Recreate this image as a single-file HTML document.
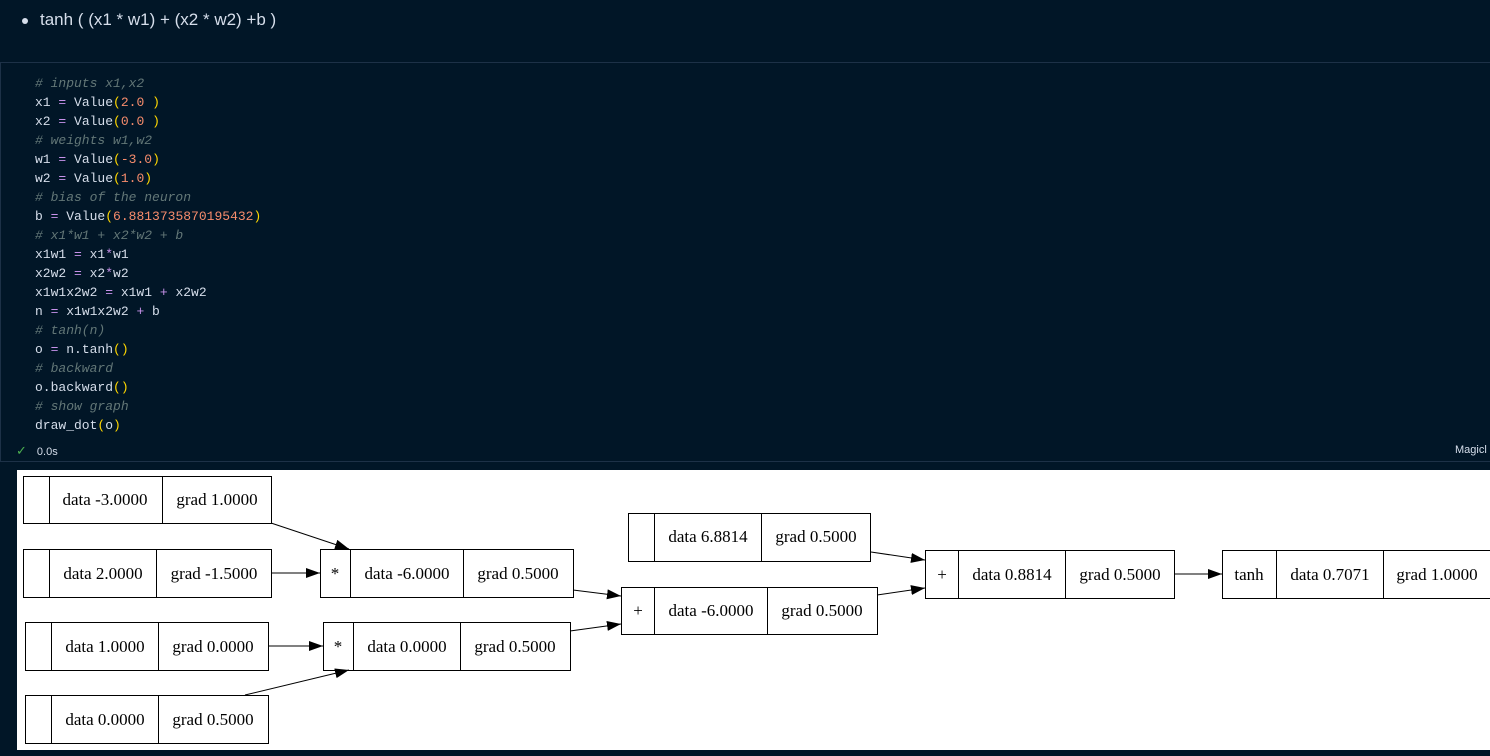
<!DOCTYPE html>
<html><head><meta charset="utf-8"><style>
html,body{margin:0;padding:0;width:1490px;height:756px;overflow:hidden;background:#011627;}
.t{position:absolute;left:40px;top:10px;color:#d6deeb;font:17px "Liberation Sans",sans-serif;}
.dot{position:absolute;left:22px;top:18px;width:6px;height:6px;border-radius:3px;background:#d6deeb;}
.cell{position:absolute;left:0;top:62px;width:1490px;height:398px;border-top:1px solid #1d3147;border-bottom:1px solid #1d3147;border-left:1px solid #1d3147;}
pre{position:absolute;left:35px;top:74px;margin:0;font:13px/19px "Liberation Mono","DejaVu Sans Mono",monospace;color:#d6deeb;}
.c{color:#637777;font-style:italic}.n{color:#f78c6c}.p{color:#ffd700}.o{color:#c792ea}.f{color:#82aaff}
.st{position:absolute;left:16px;top:443px;color:#4caf50;font:13px "Liberation Sans",sans-serif;}
.st span{color:#d6deeb;font-size:11px;margin-left:10px}
.mg{position:absolute;left:1455px;top:444px;color:#d6deeb;font:11px "Liberation Sans",sans-serif;}
svg{position:absolute;left:0;top:0}
</style></head><body>
<div class="dot"></div><div class="t">tanh ( (x1 * w1) + (x2 * w2) +b )</div>
<div class="cell"></div>
<pre><span class="c"># inputs x1,x2</span>
x1 <span class="o">=</span> Value<span class="p">(</span><span class="n">2.0</span> <span class="p">)</span>
x2 <span class="o">=</span> Value<span class="p">(</span><span class="n">0.0</span> <span class="p">)</span>
<span class="c"># weights w1,w2</span>
w1 <span class="o">=</span> Value<span class="p">(</span><span class="n">-3.0</span><span class="p">)</span>
w2 <span class="o">=</span> Value<span class="p">(</span><span class="n">1.0</span><span class="p">)</span>
<span class="c"># bias of the neuron</span>
b <span class="o">=</span> Value<span class="p">(</span><span class="n">6.8813735870195432</span><span class="p">)</span>
<span class="c"># x1*w1 + x2*w2 + b</span>
x1w1 <span class="o">=</span> x1<span class="o">*</span>w1
x2w2 <span class="o">=</span> x2<span class="o">*</span>w2
x1w1x2w2 <span class="o">=</span> x1w1 <span class="o">+</span> x2w2
n <span class="o">=</span> x1w1x2w2 <span class="o">+</span> b
<span class="c"># tanh(n)</span>
o <span class="o">=</span> n.tanh<span class="p">()</span>
<span class="c"># backward</span>
o.backward<span class="p">()</span>
<span class="c"># show graph</span>
draw_dot<span class="p">(</span>o<span class="p">)</span></pre>
<div class="st">✓<span>0.0s</span></div>
<div class="mg">Magicl</div>
<svg width="1490" height="756" font-family="Liberation Serif,serif" font-size="17">
<defs><marker id="a" markerWidth="14" markerHeight="10" refX="14" refY="5" orient="auto" markerUnits="userSpaceOnUse"><path d="M0,0L14,5L0,10z" fill="#000"/></marker></defs>
<rect x="17" y="470" width="1473" height="280" fill="#fff"/>
<g fill="none" stroke="#000" stroke-width="1">
<rect x="23.5" y="476.5" width="248" height="47"/><path d="M49.5 476v48M162.5 476v48"/>
<rect x="23.5" y="549.5" width="248" height="48"/><path d="M49.5 549v49M156.5 549v49"/>
<rect x="25.5" y="622.5" width="243" height="48"/><path d="M51.5 622v49M158.5 622v49"/>
<rect x="25.5" y="695.5" width="243" height="48"/><path d="M51.5 695v49M158.5 695v49"/>
<rect x="320.5" y="549.5" width="253" height="48"/><path d="M350.5 549v49M463.5 549v49"/>
<rect x="323.5" y="622.5" width="247" height="48"/><path d="M353.5 622v49M460.5 622v49"/>
<rect x="628.5" y="513.5" width="242" height="48"/><path d="M654.5 513v49M761.5 513v49"/>
<rect x="621.5" y="587.5" width="256" height="47"/><path d="M654.5 587v48M767.5 587v48"/>
<rect x="925.5" y="550.5" width="249" height="48"/><path d="M958.5 550v49M1065.5 550v49"/>
<rect x="1222.5" y="550.5" width="275" height="48"/><path d="M1276.5 550v49M1383.5 550v49"/>
<g marker-end="url(#a)">
<path d="M271 523L349 549"/><path d="M271 573L320 573"/><path d="M268 646L323 646"/><path d="M245 695L349 670"/>
<path d="M573 590L621 596"/><path d="M570 631L621 624"/><path d="M871 552L925 560"/><path d="M877 595L925 588"/><path d="M1174 574L1222 574"/>
</g></g>
<g fill="#000" text-anchor="middle">
<text x="105" y="505">data -3.0000</text><text x="217" y="505">grad 1.0000</text>
<text x="103" y="579">data 2.0000</text><text x="214" y="579">grad -1.5000</text>
<text x="105" y="652">data 1.0000</text><text x="213" y="652">grad 0.0000</text>
<text x="105" y="725">data 0.0000</text><text x="213" y="725">grad 0.5000</text>
<text x="335" y="579">*</text><text x="407" y="579">data -6.0000</text><text x="518" y="579">grad 0.5000</text>
<text x="338" y="652">*</text><text x="407" y="652">data 0.0000</text><text x="515" y="652">grad 0.5000</text>
<text x="708" y="542">data 6.8814</text><text x="816" y="542">grad 0.5000</text>
<text x="638" y="616">+</text><text x="711" y="616">data -6.0000</text><text x="822" y="616">grad 0.5000</text>
<text x="942" y="580">+</text><text x="1012" y="580">data 0.8814</text><text x="1120" y="580">grad 0.5000</text>
<text x="1249" y="580">tanh</text><text x="1330" y="580">data 0.7071</text><text x="1437" y="580">grad 1.0000</text>
</g>
</svg>
</body></html>
